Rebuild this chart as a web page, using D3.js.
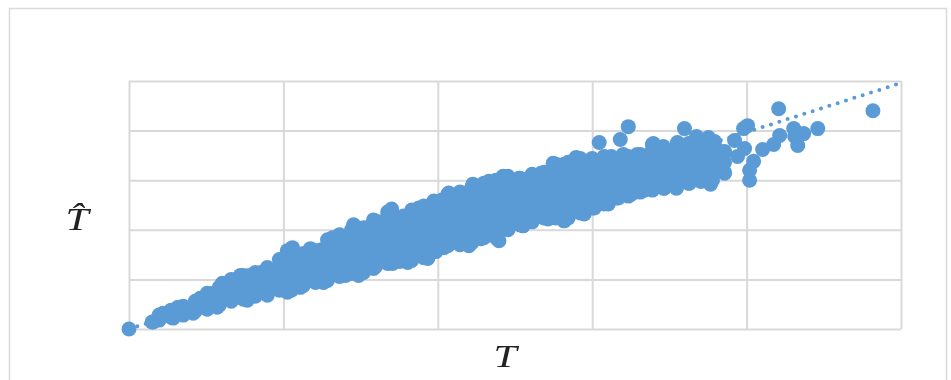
<!DOCTYPE html>
<html><head><meta charset="utf-8">
<script src="https://cdn.jsdelivr.net/npm/d3@7"></script>
<style>html,body{margin:0;padding:0;background:#fff}svg{display:block}</style>
</head><body><svg id="c" width="951" height="380"></svg>
<script>
const xTicks = [0,154,308,462,616,770];
const yTicks = [0,50,100,150,200,250];
const trend = [[0,0],[770,248]];
const origin = [[0,0]];
const upperEdge = [[23,7],[34,16],[49,22],[71,31],[93,46],[111,54],[138,62],[158,79],[163,82],[181,81],[203,92],[224,105],[244,110],[262,121],[274,114],[289,122],[304,129],[319,137],[343,146],[359,149],[373,154],[389,152],[411,157],[423,167],[434,166],[446,172]];
const lowerEdge = [[24,7],[44,11],[64,16],[88,22],[118,29],[138,34],[158,37],[171,42],[194,47],[216,54],[229,54],[244,61],[263,66],[278,67],[298,71],[314,82],[339,84],[351,91],[369,89],[393,104],[418,111],[434,109],[454,116]];
const rightCluster = [[498,204],[554,202],[648,222],[742,220],[687,202],[673,197],[663,202],[667,185],[664,194],[649,195],[643,186],[632,181],[617,205],[613,202],[604,190],[614,182],[607,174],[623,169],[619,160],[619,150],[594,157],[580,146],[469,188],[490,191],[523,187],[533,184],[547,188],[566,194],[578,193],[584,189],[564,189],[594,179],[446,173],[481,174],[493,176],[507,176],[501,136],[514,140],[533,142],[546,142],[559,147],[571,149],[478,126],[488,132],[464,122],[574,169],[548,166],[524,162],[498,159],[471,152],[448,146],[558,179],[534,159],[564,159]];
const bandColumns = [
[30,[9,14]],[42,[12,19]],[54,[14,23]],[66,[18,28]],[78,[20,26,36]],[90,[24,32,42]],
[102,[28,36,44,50]],[114,[30,38,46,54]],[126,[33,41,49,57]],[138,[36,44,52,60]],
[150,[39,47,55,63,70]],[162,[39,47,56,64,72,80]],[174,[44,52,60,68,76]],[186,[47,55,63,71,79]],
[198,[49,58,66,74,82,90]],[210,[53,61,69,78,86,95]],[222,[56,64,72,81,90,100]],[234,[57,66,75,84,93,102]],
[246,[63,71,80,89,98,107]],[258,[66,74,83,92,101,110,118]],[270,[68,77,86,95,104,112]],[282,[69,78,87,96,105,114,120]],
[294,[72,82,91,100,109,118,124]],[306,[78,87,96,105,114,123,128]],[318,[84,93,102,111,120,129,136]],[330,[85,95,104,113,122,131,138]],
[342,[87,97,106,115,124,133,143]],[354,[92,102,111,120,129,138,147]],[366,[92,102,112,122,132,142,150]],[378,[100,110,120,130,140,150,154]],
[390,[105,115,125,135,145,152]],[402,[108,118,128,138,148,156]],[414,[112,122,132,142,152,158]],[426,[112,122,132,142,152,162,166]],
[438,[112,120,130,140,150,160,168]],[450,[117,127,137,147,157,167,172]],[462,[122,132,142,152,162,172]],[474,[126,136,146,156,166,174]],
[486,[132,142,152,162,172]],[498,[134,144,154,164,174]],[510,[138,148,158,168,176]],[522,[140,150,160,170,180,186]],
[534,[142,152,162,172,182]],[546,[143,153,163,173,183]],[558,[147,157,167,177,187]],[570,[149,159,169,179,189]],
[582,[150,160,170,180,188]],[594,[158,168,178]]
];
const bandInfill = [
[72,[24,31]],[84,[27,36]],[96,[31,40]],[108,[35,44,50]],[120,[38,46,54]],[132,[41,49,57]],[144,[43,51,59]],
[156,[44,52,61,70]],[168,[47,56,65,74]],[180,[52,60,69,77]],[192,[54,62,71,80]],[204,[57,66,75,85]],[216,[60,69,79,90]],
[228,[62,71,80,91]],[240,[66,76,85,95,103]],[252,[70,79,88,98,108]],[264,[72,81,91,100,110]],[276,[74,83,92,101,110]],
[288,[76,85,94,103,112,120]],[300,[79,88,97,106,115,124]],[312,[84,94,103,112,121,130]],[324,[89,98,107,116,125,134]],
[336,[91,100,110,119,128,137]],[348,[94,103,113,122,131,141]],[360,[97,107,117,126,135,145]],[372,[102,112,122,132,142,150]],
[384,[107,117,127,137,147]],[396,[111,121,131,141,151]],[408,[115,125,135,145,154]],[420,[117,127,137,147,157]],
[432,[116,125,135,145,155,164]],[444,[120,130,140,150,160,169]],[456,[125,135,145,155,165]],[468,[129,139,149,159,169]],
[480,[132,142,152,162,172]],[492,[138,148,158,168]],[504,[141,151,161,171]],[516,[144,154,164,174]],
[528,[146,156,166,176]],[540,[148,158,168,178]],[552,[150,160,170,180]],[564,[153,163,173,183]],[576,[155,165,175,185]],[588,[160,170,180]]
];
const xLabel = "T";
const yLabel = "T\u0302";

const blue = "#5b9bd5", grid = "#d9d9d9";
const svg = d3.select("#c");
const x = d3.scaleLinear().domain([0,770]).range([129,901]);
const y = d3.scaleLinear().domain([0,250]).range([329,81]);

svg.append("path").attr("d","M9.5 380V8.5H946.5V380").attr("fill","none").attr("stroke",grid).attr("stroke-width",1.5);

const gx = svg.append("g").attr("transform","translate(0,329)")
  .call(d3.axisBottom(x).tickValues(xTicks).tickSize(-248).tickFormat(""));
const gy = svg.append("g").attr("transform","translate(129,0)")
  .call(d3.axisLeft(y).tickValues(yTicks).tickSize(-772).tickFormat(""));
[gx,gy].forEach(g=>{g.select(".domain").remove();g.selectAll("line").attr("stroke",grid).attr("stroke-width",2);});

const line = d3.line().x(d=>x(d[0])).y(d=>y(d[1]));
svg.append("path").datum(trend).attr("d",line).attr("fill","none").attr("stroke",blue)
  .attr("stroke-width",4).attr("stroke-linecap","round").attr("stroke-dasharray","0 8.75");

const bandPoints = bandColumns.concat(bandInfill).flatMap(([t,hats])=>hats.map(h=>[t,h]));
const pts = [].concat(origin,upperEdge,lowerEdge,rightCluster,bandPoints);
svg.append("g").selectAll("circle").data(pts).join("circle")
  .attr("cx",d=>x(d[0])).attr("cy",d=>y(d[1])).attr("r",7.5).attr("fill",blue);

const lab = svg.append("g").attr("font-family","'Liberation Serif',serif").attr("font-style","italic")
  .attr("font-size",32).attr("fill","#222").attr("text-anchor","middle").style("filter","blur(0.5px)");
lab.append("text").attr("transform","translate(505,367) scale(1.3,1)").text(xLabel);
lab.append("text").attr("transform","translate(77,230) scale(1.3,1)").text(yLabel);
</script></body></html>
